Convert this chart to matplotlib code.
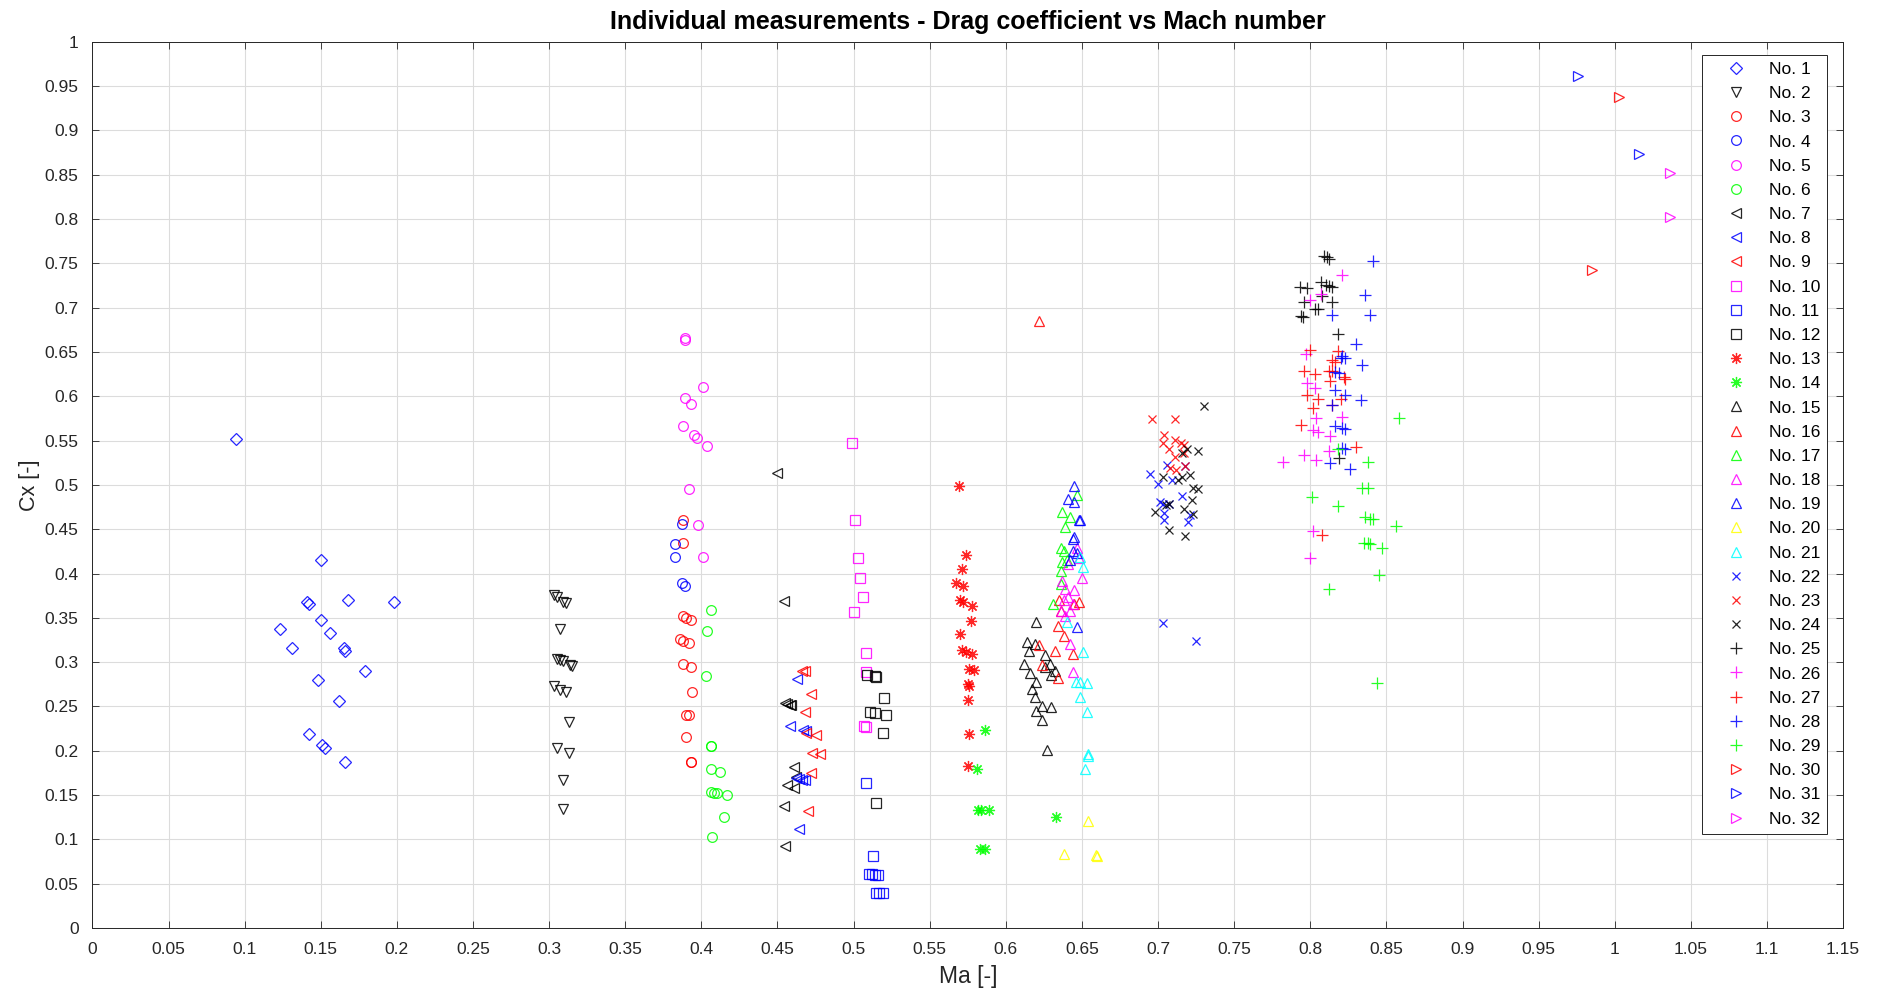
import numpy as np
import matplotlib
matplotlib.use('Agg')
import matplotlib.pyplot as plt

plt.rcParams['font.family'] = ['Liberation Sans', 'DejaVu Sans']

# measured points per test series (Ma, Cx)
ma1 = [0.094, 0.150, 0.141, 0.142, 0.168, 0.198, 0.150, 0.156, 0.123, 0.131, 0.165, 0.166, 0.179, 0.148, 0.162, 0.142, 0.151, 0.153, 0.166]
cx1 = [0.552, 0.415, 0.368, 0.366, 0.370, 0.368, 0.348, 0.333, 0.337, 0.316, 0.316, 0.313, 0.290, 0.280, 0.256, 0.219, 0.206, 0.203, 0.187]
ma2 = [0.303, 0.305, 0.311, 0.309, 0.307, 0.305, 0.307, 0.309, 0.314, 0.315, 0.303, 0.307, 0.311, 0.313, 0.305, 0.313, 0.309, 0.309]
cx2 = [0.376, 0.374, 0.367, 0.368, 0.337, 0.304, 0.303, 0.301, 0.297, 0.296, 0.273, 0.269, 0.266, 0.232, 0.203, 0.198, 0.167, 0.134]
ma3 = [0.388, 0.388, 0.388, 0.390, 0.393, 0.386, 0.388, 0.392, 0.388, 0.393, 0.394, 0.390, 0.392, 0.390, 0.393, 0.393]
cx3 = [0.461, 0.434, 0.352, 0.350, 0.348, 0.326, 0.324, 0.322, 0.298, 0.295, 0.266, 0.240, 0.240, 0.216, 0.187, 0.187]
ma4 = [0.387, 0.383, 0.383, 0.387, 0.389]
cx4 = [0.456, 0.433, 0.419, 0.389, 0.386]
ma5 = [0.389, 0.389, 0.401, 0.389, 0.393, 0.388, 0.395, 0.397, 0.404, 0.392, 0.398, 0.401]
cx5 = [0.666, 0.664, 0.611, 0.598, 0.591, 0.566, 0.556, 0.553, 0.544, 0.495, 0.455, 0.419]
ma6 = [0.406, 0.404, 0.403, 0.406, 0.406, 0.406, 0.412, 0.406, 0.408, 0.410, 0.417, 0.415, 0.407]
cx6 = [0.359, 0.335, 0.284, 0.205, 0.205, 0.179, 0.176, 0.153, 0.152, 0.152, 0.150, 0.125, 0.103]
ma7 = [0.450, 0.454, 0.455, 0.456, 0.458, 0.459, 0.461, 0.462, 0.456, 0.461, 0.454, 0.455]
cx7 = [0.513, 0.369, 0.254, 0.253, 0.252, 0.252, 0.182, 0.170, 0.161, 0.158, 0.138, 0.092]
ma8 = [0.463, 0.458, 0.467, 0.469, 0.462, 0.464, 0.466, 0.468, 0.464]
cx8 = [0.281, 0.228, 0.224, 0.222, 0.169, 0.168, 0.167, 0.167, 0.112]
ma9 = [0.466, 0.468, 0.472, 0.468, 0.469, 0.475, 0.473, 0.478, 0.472, 0.470]
cx9 = [0.290, 0.290, 0.264, 0.244, 0.220, 0.218, 0.198, 0.196, 0.175, 0.132]
ma10 = [0.499, 0.501, 0.503, 0.504, 0.506, 0.500, 0.508, 0.508, 0.507, 0.508]
cx10 = [0.547, 0.461, 0.418, 0.395, 0.373, 0.357, 0.310, 0.289, 0.228, 0.227]
ma11 = [0.508, 0.513, 0.510, 0.512, 0.514, 0.516, 0.515, 0.517, 0.519]
cx11 = [0.164, 0.081, 0.061, 0.061, 0.060, 0.060, 0.039, 0.039, 0.039]
ma12 = [0.509, 0.514, 0.515, 0.520, 0.511, 0.514, 0.521, 0.519, 0.515]
cx12 = [0.286, 0.284, 0.283, 0.260, 0.244, 0.243, 0.240, 0.220, 0.141]
ma13 = [0.569, 0.574, 0.571, 0.567, 0.572, 0.570, 0.572, 0.578, 0.577, 0.570, 0.571, 0.574, 0.578, 0.576, 0.579, 0.575, 0.576, 0.575, 0.576, 0.575]
cx13 = [0.499, 0.421, 0.405, 0.389, 0.386, 0.370, 0.368, 0.363, 0.346, 0.332, 0.314, 0.312, 0.309, 0.292, 0.291, 0.275, 0.273, 0.257, 0.219, 0.183]
ma14 = [0.586, 0.581, 0.582, 0.584, 0.589, 0.583, 0.586, 0.633]
cx14 = [0.223, 0.179, 0.133, 0.133, 0.133, 0.089, 0.089, 0.125]
ma15 = [0.620, 0.614, 0.619, 0.615, 0.612, 0.626, 0.629, 0.632, 0.630, 0.616, 0.620, 0.617, 0.619, 0.624, 0.630, 0.620, 0.624, 0.627, 0.626]
cx15 = [0.345, 0.323, 0.321, 0.313, 0.298, 0.308, 0.298, 0.290, 0.286, 0.288, 0.278, 0.270, 0.261, 0.251, 0.249, 0.245, 0.235, 0.201, 0.294]
ma16 = [0.622, 0.635, 0.636, 0.634, 0.638, 0.622, 0.632, 0.644, 0.624, 0.634, 0.645, 0.648]
cx16 = [0.685, 0.370, 0.358, 0.341, 0.330, 0.319, 0.313, 0.309, 0.297, 0.282, 0.366, 0.368]
ma17 = [0.647, 0.637, 0.639, 0.642, 0.636, 0.638, 0.637, 0.636, 0.636, 0.631, 0.640]
cx17 = [0.489, 0.470, 0.453, 0.464, 0.429, 0.425, 0.413, 0.403, 0.388, 0.366, 0.415]
ma18 = [0.647, 0.648, 0.650, 0.641, 0.637, 0.639, 0.645, 0.641, 0.638, 0.644, 0.636, 0.642, 0.639, 0.642, 0.644]
cx18 = [0.429, 0.417, 0.395, 0.411, 0.392, 0.383, 0.382, 0.374, 0.370, 0.366, 0.358, 0.358, 0.352, 0.321, 0.289]
ma19 = [0.645, 0.641, 0.645, 0.648, 0.649, 0.645, 0.644, 0.644, 0.642, 0.647, 0.647]
cx19 = [0.499, 0.484, 0.481, 0.461, 0.460, 0.441, 0.439, 0.425, 0.415, 0.423, 0.340]
ma20 = [0.654, 0.638, 0.659, 0.660]
cx20 = [0.121, 0.083, 0.082, 0.081]
ma21 = [0.651, 0.649, 0.651, 0.646, 0.649, 0.653, 0.649, 0.653, 0.654, 0.654, 0.652, 0.640]
cx21 = [0.407, 0.419, 0.311, 0.278, 0.278, 0.276, 0.261, 0.244, 0.196, 0.194, 0.180, 0.345]
ma22 = [0.695, 0.700, 0.706, 0.718, 0.709, 0.716, 0.701, 0.703, 0.707, 0.704, 0.704, 0.721, 0.720, 0.703, 0.725]
cx22 = [0.512, 0.501, 0.523, 0.521, 0.506, 0.488, 0.481, 0.479, 0.479, 0.468, 0.461, 0.466, 0.458, 0.344, 0.324]
ma23 = [0.696, 0.711, 0.704, 0.711, 0.715, 0.717, 0.703, 0.707, 0.711, 0.717, 0.708, 0.712, 0.718]
cx23 = [0.574, 0.574, 0.556, 0.551, 0.547, 0.545, 0.547, 0.541, 0.532, 0.536, 0.519, 0.517, 0.521]
ma24 = [0.730, 0.719, 0.726, 0.716, 0.721, 0.716, 0.703, 0.723, 0.726, 0.722, 0.707, 0.705, 0.698, 0.717, 0.723, 0.707, 0.718, 0.713]
cx24 = [0.589, 0.541, 0.538, 0.536, 0.511, 0.509, 0.509, 0.496, 0.495, 0.483, 0.479, 0.477, 0.470, 0.473, 0.467, 0.449, 0.442, 0.506]
ma25 = [0.809, 0.811, 0.812, 0.793, 0.798, 0.807, 0.810, 0.812, 0.814, 0.808, 0.796, 0.814, 0.803, 0.805, 0.794, 0.795, 0.818, 0.819]
cx25 = [0.758, 0.757, 0.755, 0.723, 0.722, 0.729, 0.726, 0.724, 0.723, 0.713, 0.707, 0.706, 0.699, 0.698, 0.691, 0.690, 0.670, 0.530]
ma26 = [0.821, 0.807, 0.800, 0.797, 0.798, 0.803, 0.804, 0.821, 0.802, 0.805, 0.813, 0.782, 0.796, 0.804, 0.812, 0.802, 0.800]
cx26 = [0.737, 0.716, 0.709, 0.648, 0.615, 0.609, 0.576, 0.577, 0.562, 0.560, 0.555, 0.526, 0.534, 0.528, 0.538, 0.448, 0.418]
ma27 = [0.800, 0.818, 0.816, 0.814, 0.796, 0.803, 0.812, 0.814, 0.813, 0.822, 0.823, 0.798, 0.805, 0.820, 0.802, 0.814, 0.794, 0.830, 0.808]
cx27 = [0.652, 0.651, 0.639, 0.641, 0.629, 0.625, 0.629, 0.629, 0.617, 0.622, 0.620, 0.602, 0.597, 0.597, 0.587, 0.590, 0.568, 0.543, 0.444]
ma28 = [0.841, 0.836, 0.839, 0.814, 0.830, 0.821, 0.820, 0.823, 0.834, 0.816, 0.819, 0.816, 0.823, 0.814, 0.833, 0.816, 0.821, 0.823, 0.821, 0.823, 0.813, 0.826]
cx28 = [0.753, 0.714, 0.692, 0.692, 0.659, 0.645, 0.643, 0.643, 0.635, 0.628, 0.626, 0.607, 0.602, 0.590, 0.596, 0.566, 0.564, 0.563, 0.542, 0.541, 0.525, 0.518]
ma29 = [0.858, 0.818, 0.838, 0.834, 0.838, 0.801, 0.818, 0.836, 0.839, 0.841, 0.856, 0.835, 0.838, 0.839, 0.847, 0.845, 0.812, 0.844]
cx29 = [0.575, 0.540, 0.526, 0.496, 0.496, 0.486, 0.476, 0.464, 0.462, 0.462, 0.454, 0.435, 0.434, 0.433, 0.429, 0.398, 0.383, 0.276]
ma30 = [1.003, 0.985]
cx30 = [0.938, 0.742]
ma31 = [0.976, 1.016]
cx31 = [0.962, 0.873]
ma32 = [1.036, 1.036]
cx32 = [0.852, 0.802]

ma_all = [ma1, ma2, ma3, ma4, ma5, ma6, ma7, ma8, ma9, ma10, ma11, ma12, ma13, ma14, ma15, ma16,
          ma17, ma18, ma19, ma20, ma21, ma22, ma23, ma24, ma25, ma26, ma27, ma28, ma29, ma30, ma31, ma32]
cx_all = [cx1, cx2, cx3, cx4, cx5, cx6, cx7, cx8, cx9, cx10, cx11, cx12, cx13, cx14, cx15, cx16,
          cx17, cx18, cx19, cx20, cx21, cx22, cx23, cx24, cx25, cx26, cx27, cx28, cx29, cx30, cx31, cx32]

# MATLAB-style pure colours
B, K, R, M, G, Y, C = '#0000ff', '#000000', '#ff0000', '#ff00ff', '#00ff00', '#ffff00', '#00ffff'

star = (8, 2, 0)
markers = ['D', 'v', 'o', 'o', 'o', 'o', '<', '<', '<', 's', 's', 's', star, star,
           '^', '^', '^', '^', '^', '^', '^', 'x', 'x', 'x', '+', '+', '+', '+', '+', '>', '>', '>']
colors = [B, K, R, B, M, G, K, B, R, M, B, K, R, G,
          K, R, G, M, B, Y, C, B, R, K, K, M, R, B, G, R, B, M]
sizes = {'D': 6.0, 'v': 7.5, 'o': 7.0, '<': 7.5, 's': 7.0, '^': 7.5, 'x': 6.0, '+': 8.5, '>': 7.5}

fig = plt.figure(figsize=(18.83, 9.97), dpi=100)
ax = fig.add_axes([0.0491, 0.0692, 0.9297, 0.8888])

for i in range(32):
    m = markers[i]
    ms = 8.0 if isinstance(m, tuple) else sizes[m]
    ax.plot(ma_all[i], cx_all[i], linestyle='none', marker=m, mfc='none', mec=colors[i],
            ms=ms, mew=0.9, alpha=0.85, label=f'No. {i + 1}')

ax.set_xlim(0, 1.15)
ax.set_ylim(0, 1)
xt = np.round(np.arange(0, 1.1501, 0.05), 2)
yt = np.round(np.arange(0, 1.0001, 0.05), 2)
ax.set_xticks(xt)
ax.set_yticks(yt)
ax.set_xticklabels([f'{v:g}' for v in xt])
ax.set_yticklabels([f'{v:g}' for v in yt])
ax.tick_params(direction='in', length=5, width=0.6, labelsize=12.5, colors='#262626',
               top=True, right=True)
ax.tick_params(axis='x', pad=10)
ax.tick_params(axis='y', pad=10)
ax.grid(True, color='#dcdcdc', linewidth=0.8)
ax.set_axisbelow(True)
for s in ax.spines.values():
    s.set_color('#262626')
    s.set_linewidth(0.7)

ax.set_xlabel('Ma [-]', fontsize=16.5, color='#262626', labelpad=6)
ax.set_ylabel('Cx [-]', fontsize=15.5, color='#262626', labelpad=3)
ax.set_title('Individual measurements - Drag coefficient vs Mach number', fontsize=18,
             fontweight='bold', pad=9)

leg = ax.legend(loc='upper right', bbox_to_anchor=(0.9909, 0.9853), borderaxespad=0,
                fontsize=12.5, handlelength=3.1, handletextpad=0.35, labelspacing=0.52,
                borderpad=0.4, fancybox=False, framealpha=1, edgecolor='#262626')
leg.get_frame().set_linewidth(0.7)

fig.savefig('out.png', dpi=100)
